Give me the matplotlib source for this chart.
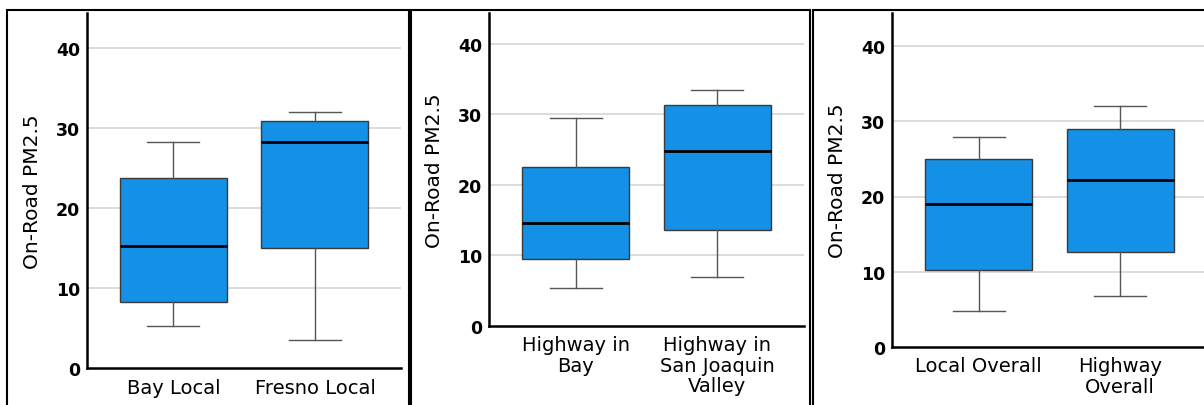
import numpy as np
import matplotlib
matplotlib.use('Agg')
import matplotlib.pyplot as plt
from matplotlib.patches import Rectangle

# five-number summaries, one panel per list
panel_labels = [['Bay Local', 'Fresno Local'],
                ['Highway in\nBay', 'Highway in\nSan Joaquin\nValley'],
                ['Local Overall', 'Highway\nOverall']]
whislo = [[5.2, 3.5], [5.4, 6.95], [4.7, 6.7]]
q1 = [[8.2, 15.05], [9.5, 13.6], [10.25, 12.6]]
med = [[15.25, 28.2], [14.6, 24.75], [19.0, 22.25]]
q3 = [[23.8, 30.9], [22.55, 31.35], [24.95, 29.0]]
whishi = [[28.25, 32.0], [29.45, 33.5], [27.9, 32.1]]
yticks = [0, 10, 20, 30, 40]

W, H = 1204, 406
fig = plt.figure(figsize=(W / 100, H / 100), dpi=100)

# axes boxes in pixels: left, right, y of zero, px per unit
boxes = [(87, 401, 369, 8.0), (489.3, 804, 326.7, 7.05), (892.3, 1206, 347.7, 7.51)]
top_px = 14

box_color = '#1490e6'

for i, (l, r, y0, ppu) in enumerate(boxes):
    ax = fig.add_axes([l / W, (H - y0) / H, (r - l) / W, (y0 - top_px) / H])
    stats = []
    for j in range(2):
        stats.append({'whislo': whislo[i][j], 'q1': q1[i][j], 'med': med[i][j],
                      'q3': q3[i][j], 'whishi': whishi[i][j], 'fliers': []})
    ax.bxp(stats, positions=[1, 2], widths=0.756, capwidths=0.367,
           showfliers=False, patch_artist=True,
           boxprops=dict(facecolor=box_color, edgecolor='#3a3a3a', linewidth=1.0),
           medianprops=dict(color='black', linewidth=2.0),
           whiskerprops=dict(color='#555555', linewidth=1.0),
           capprops=dict(color='#555555', linewidth=1.0))
    ax.set_xlim(0.389, 0.389 + (r - l) / 141.5)
    ax.set_ylim(0, (y0 - top_px) / ppu)
    ax.set_yticks(yticks)
    ax.set_yticklabels([str(t) for t in yticks], fontweight='bold', fontsize=12.5)
    ax.set_xticks([1, 2])
    ax.set_xticklabels(panel_labels[i], fontsize=14, linespacing=1.1, va='top')
    ax.tick_params(axis='both', length=0)
    ax.tick_params(axis='y', pad=5)
    ax.tick_params(axis='x', pad=7)
    for t in [10, 20, 30, 40]:
        ax.axhline(t, color='#d6d6d6', linewidth=1.2, zorder=0)
    ax.spines['top'].set_visible(False)
    ax.spines['right'].set_visible(False)
    ax.spines['left'].set_linewidth(1.8)
    ax.spines['bottom'].set_linewidth(1.8)
    ax.set_ylabel('On-Road PM2.5', fontsize=14.5)
    ax.yaxis.set_label_coords(-0.143, 0.5)

# panel frames
frames = [(7, 409), (411, 810), (813, 1220)]
for a, b in frames:
    fig.add_artist(Rectangle((a / W, -0.1), (b - a) / W, 1.1 - 11 / H,
                             transform=fig.transFigure, fill=False,
                             edgecolor='black', linewidth=1.5))

plt.savefig('out.png', dpi=100)
